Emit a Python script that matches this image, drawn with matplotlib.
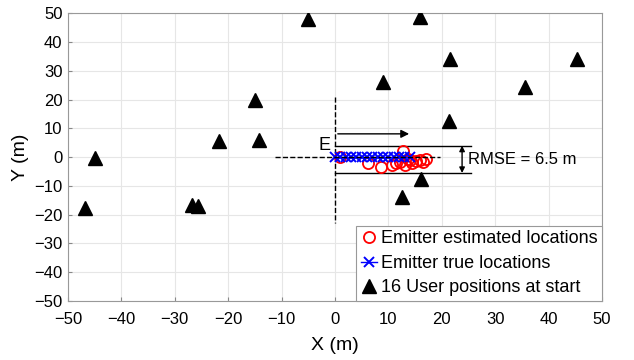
import matplotlib
matplotlib.use("Agg")
import matplotlib.pyplot as plt
import numpy as np

plt.rcParams['font.family'] = ['Liberation Sans', 'DejaVu Sans']

# User positions (triangles)
user_x = [-5, 16, 9, 21.3, 21.5, 35.5, 45.3, -15, -14.2, -21.7, -45, -46.8, -26.8, -25.6, 12.5, 16.1]
user_y = [48, 48.6, 26.2, 12.6, 34.2, 24.4, 34, 20, 6, 5.6, -0.3, -17.6, -16.5, -16.9, -13.7, -7.7]

# Emitter true locations
true_x = [0, 1, 2, 3, 4, 5, 6, 7, 8, 9, 10, 11, 12, 13, 14]
true_y = [0, 0, 0, 0, 0, 0, 0, 0, 0, 0, 0, 0, 0, 0, 0]

# Emitter estimated locations
est_x = [0.9, 6.2, 8.7, 10.6, 11.5, 12.1, 12.8, 13.1, 13.6, 14.0, 14.5, 15.2, 15.9, 16.5, 17.1]
est_y = [0.1, -2.2, -3.4, -2.6, -2.0, -1.6, 2.1, -2.8, -0.5, -1.1, -2.2, -1.4, -1.1, -1.8, -0.5]

rmse_text = "RMSE = 6.5 m"

fig = plt.figure(figsize=(6.34, 3.6), dpi=100)
ax = fig.add_axes([0.1073, 0.1639, 0.8422, 0.7991])

ax.plot(est_x, est_y, 'o', color='red', mfc='none', ms=8, mew=1.3,
        label='Emitter estimated locations', zorder=4)
ax.plot(true_x, true_y, 'x-', color='blue', ms=7, mew=1.4, lw=1.0,
        label='Emitter true locations', zorder=5)
ax.plot(user_x, user_y, '^', color='black', ms=9.5,
        label='16 User positions at start', zorder=4, linestyle='none')

# annotations
ax.plot([0, 0], [21, -23], '--', color='black', lw=1.0, zorder=3)
ax.plot([-11.2, 19.6], [0, 0], '--', color='black', lw=1.0, zorder=6)
ax.annotate('', xy=(14.4, 8.1), xytext=(0, 8.1),
            arrowprops=dict(arrowstyle='-|>', color='black', lw=1.0, mutation_scale=12))
ax.plot([0, 25.5], [4.0, 4.0], '-', color='black', lw=1.0)
ax.plot([0, 25.5], [-5.5, -5.5], '-', color='black', lw=1.0)
ax.annotate('', xy=(23.8, 4.0), xytext=(23.8, -5.5),
            arrowprops=dict(arrowstyle='<|-|>', color='black', lw=1.0, mutation_scale=8,
                            shrinkA=0, shrinkB=0))
ax.text(24.9, -0.8, rmse_text, fontsize=12, va='center', ha='left')
ax.text(-0.9, 4.0, 'E', fontsize=13, va='center', ha='right')

ax.set_xlim(-50, 50)
ax.set_ylim(-50, 50)
ax.set_xticks(np.arange(-50, 51, 10))
ax.set_yticks(np.arange(-50, 51, 10))
ax.tick_params(direction='in', labelsize=12, length=3, color='#888888')
ax.tick_params(axis='x', pad=8)
ax.tick_params(axis='y', pad=4)
ax.grid(True, color='#e6e6e6', lw=0.8)
ax.set_axisbelow(True)
for s in ax.spines.values():
    s.set_color('#999999')
    s.set_linewidth(0.8)
ax.set_xlabel('X (m)', fontsize=14, labelpad=7)
ax.set_ylabel('Y (m)', fontsize=14, labelpad=4)

leg = ax.legend(loc='lower right', fontsize=13, borderaxespad=0, handlelength=0.9,
                handletextpad=0.2, labelspacing=0.42, fancybox=False, framealpha=1,
                borderpad=0.25)
leg.get_frame().set_edgecolor('#999999')
leg.get_frame().set_linewidth(0.8)

fig.savefig('out.png', dpi=100)
